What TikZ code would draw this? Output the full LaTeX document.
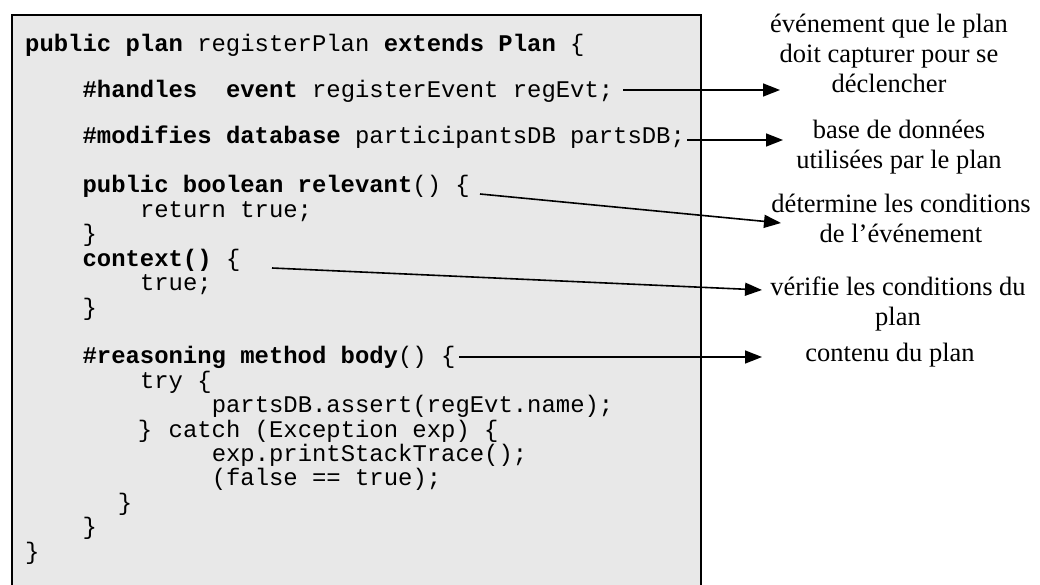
\documentclass[tikz,border=0pt]{standalone}
\usepackage{fontspec}
\newfontfamily\codefont{Liberation Mono}
\newfontfamily\labfont{Liberation Serif}
\usetikzlibrary{arrows.meta}
\definecolor{boxgray}{HTML}{E8E8E8}
\tikzset{
  code/.style={font=\codefont\fontsize{23.9}{24.4}\selectfont, inner sep=0pt, anchor=base west},
  cbrace/.style={font=\codefont\fontsize{23.9}{24.4}\selectfont, inner sep=0pt, anchor=base},
  lab/.style={font=\labfont\fontsize{26.5}{30}\selectfont, inner sep=0pt, anchor=base, align=center},
  conn/.style={line width=1.6pt, -{Triangle[length=17pt,width=13pt]}}
}
\begin{document}
\begin{tikzpicture}[x=1pt,y=-1pt]
\useasboundingbox (0,0) rectangle (1040,585);
\draw[fill=boxgray, line width=2pt] (12,15) rectangle (701,600);
% code lines
\node[code] (l1)  at (25,52) {\textbf{public plan} registerPlan \textbf{extends Plan} \{};
\node[code] (l2)  at ({25+4*14.35},98) {\textbf{\#handles}\ \ \textbf{event} registerEvent regEvt;};
\node[code] (l3)  at ({25+4*14.35},144) {\textbf{\#modifies database} participantsDB partsDB;};
\node[code] (l4)  at ({25+4*14.35},193) {\textbf{public boolean relevant}() \{};
\node[code] (l5)  at ({25+8*14.35},217.4) {return true;};
\node[code] (l6)  at ({25+4*14.35},241.8) {\}};
\node[code] (l7)  at ({25+4*14.35},266.2) {\textbf{context()} \{};
\node[code] (l8)  at ({25+8*14.35},290.6) {true;};
\node[code] (l9)  at ({25+4*14.35},315) {\}};
\node[code] (l11) at ({25+4*14.35},363.8) {\textbf{\#reasoning method body}() \{};
\node[code] (l12) at ({25+8*14.35},388.2) {try \{};
\node[code] (l13) at ({25+13*14.35},412.6) {partsDB.assert(regEvt.name);};
\node[cbrace] (l14a) at (145,437) {\}};
\node[code] (l14) at ({25+10*14.35},437) {catch (Exception exp) \{};
\node[code] (l15) at ({25+13*14.35},461.4) {exp.printStackTrace();};
\node[code] (l16) at ({25+13*14.35},485.8) {(false == true);};
\node[cbrace] (l17) at (125,510.2) {\}};
\node[code] (l18) at ({25+4*14.35},534.6) {\}};
\node[code] (l19) at (25,559) {\}};
% labels (anchor base = baseline of the last line)
\node[lab] (t1) at (889,93) {événement que le plan\\doit capturer pour se\\déclencher};
\node[lab] (t2) at (899,169) {base de données\\utilisées par le plan};
\node[lab] (t3) at (901,243) {détermine les conditions\\de l’événement};
\node[lab] (t4) at (898,325) {vérifie les conditions du\\plan};
\node[lab] (t5) at (890,361) {contenu du plan};
% connector ends
\coordinate (a1s) at (623,90);  \coordinate (a1e) at (780,90);
\coordinate (a2s) at (687,140); \coordinate (a2e) at (783,140);
\coordinate (a3s) at (480,194); \coordinate (a3e) at (781,223);
\coordinate (a4s) at (272,268); \coordinate (a4e) at (762,290);
\coordinate (a5s) at (459,357); \coordinate (a5e) at (762,357);
\draw[conn] (a1s) -- (a1e);
\draw[conn] (a2s) -- (a2e);
\draw[conn] (a3s) -- (a3e);
\draw[conn] (a4s) -- (a4e);
\draw[conn] (a5s) -- (a5e);
\end{tikzpicture}
\end{document}
